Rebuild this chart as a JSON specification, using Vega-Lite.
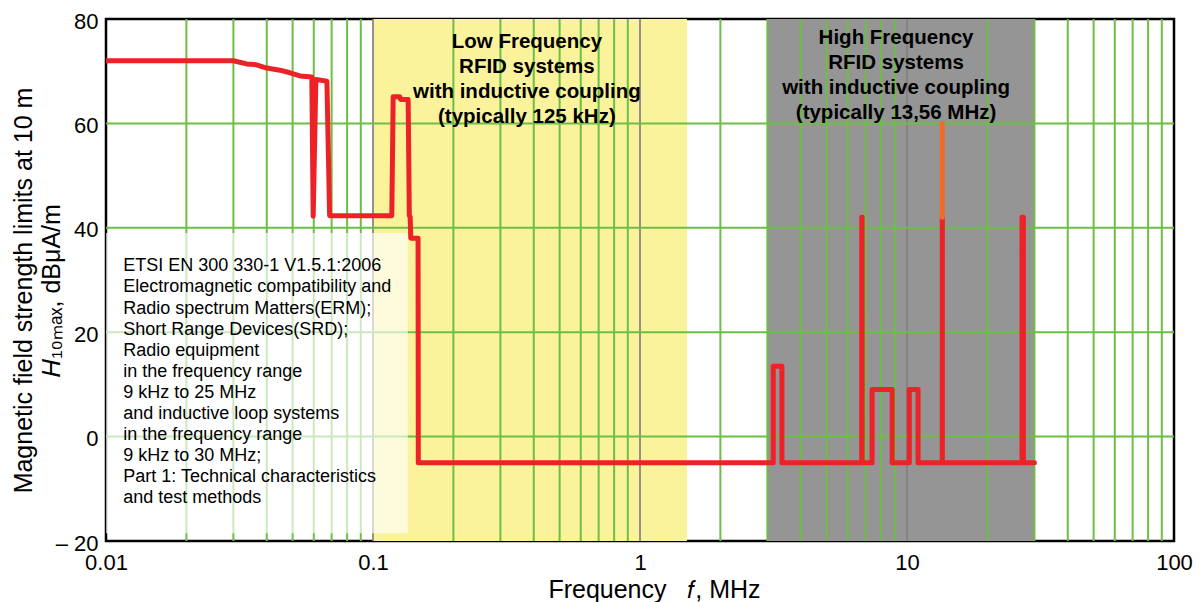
{
  "$schema": "https://vega.github.io/schema/vega-lite/v6.json",
  "width": 1068,
  "height": 522,
  "autosize": {"type": "none"},
  "padding": {"left": 106, "top": 19, "right": 26, "bottom": 61},
  "background": "white",
  "config": {
    "font": "Liberation Sans",
    "view": {"stroke": "black", "strokeWidth": 2.5},
    "axisX": {
      "tickCount": 4,
      "format": "~g",
      "labelFontSize": 22,
      "labelColor": "black",
      "labelPadding": 11,
      "labelFlush": false,
      "labelOverlap": false,
      "ticks": false,
      "grid": false,
      "domain": false,
      "titleFontSize": 25,
      "titleFontWeight": "normal",
      "titleColor": "black",
      "titleX": 548,
      "titleY": 56,
      "titleAlign": "center",
      "titleBaseline": "alphabetic"
    },
    "axisY": {
      "tickCount": 5,
      "labelExpr": "datum.value < 0 ? '– ' + abs(datum.value) : datum.label",
      "labelFontSize": 22,
      "labelColor": "black",
      "labelPadding": 8,
      "labelOffset": 2,
      "labelOverlap": false,
      "ticks": false,
      "grid": false,
      "domain": false,
      "titleFontSize": 25,
      "titleFontWeight": "normal",
      "titleColor": "black",
      "titleLineHeight": 28,
      "titleX": -70,
      "titleY": 271,
      "titleAlign": "center",
      "titleBaseline": "bottom",
      "titleAngle": -90
    }
  },
  "datasets": {
    "bands": [
      {"band": "LF", "f0": 0.1, "f1": 1.5},
      {"band": "HF", "f0": 3, "f1": 30}
    ],
    "grid": [
      {"f": 0.02}, {"f": 0.03}, {"f": 0.04}, {"f": 0.05}, {"f": 0.06}, {"f": 0.07}, {"f": 0.08}, {"f": 0.09},
      {"f": 0.2}, {"f": 0.3}, {"f": 0.4}, {"f": 0.5}, {"f": 0.6}, {"f": 0.7}, {"f": 0.8}, {"f": 0.9},
      {"f": 2}, {"f": 3}, {"f": 4}, {"f": 5}, {"f": 6}, {"f": 7}, {"f": 8}, {"f": 9},
      {"f": 20}, {"f": 30}, {"f": 40}, {"f": 50}, {"f": 60}, {"f": 70}, {"f": 80}, {"f": 90}
    ],
    "decades": [{"f": 0.1}, {"f": 1}, {"f": 10}],
    "levels": [{"h": 60}, {"h": 40}, {"h": 20}, {"h": 0}],
    "box": [{"f0": 0.01, "f1": 0.135, "h0": -18.5, "h1": 39}],
    "limit": [
      {"f": 0.01, "h": 72},
      {"f": 0.03, "h": 72},
      {"f": 0.0336, "h": 71.4},
      {"f": 0.0361, "h": 71.3},
      {"f": 0.04, "h": 70.6},
      {"f": 0.0448, "h": 70.2},
      {"f": 0.0489, "h": 69.7},
      {"f": 0.0533, "h": 69.1},
      {"f": 0.059, "h": 68.9},
      {"f": 0.0597, "h": 42.2},
      {"f": 0.0611, "h": 68.4},
      {"f": 0.0672, "h": 68.1},
      {"f": 0.0688, "h": 42.3},
      {"f": 0.1176, "h": 42.3},
      {"f": 0.119, "h": 65.1},
      {"f": 0.126, "h": 65.1},
      {"f": 0.1268, "h": 64.6},
      {"f": 0.1354, "h": 64.6},
      {"f": 0.1368, "h": 42.3},
      {"f": 0.1378, "h": 42.1},
      {"f": 0.1385, "h": 38},
      {"f": 0.1475, "h": 38},
      {"f": 0.1478, "h": -5},
      {"f": 3.155, "h": -5},
      {"f": 3.155, "h": 13.5},
      {"f": 3.4, "h": 13.5},
      {"f": 3.4, "h": -5},
      {"f": 6.765, "h": -5},
      {"f": 6.77, "h": 42},
      {"f": 6.79, "h": 42},
      {"f": 6.795, "h": -5},
      {"f": 7.4, "h": -5},
      {"f": 7.4, "h": 9},
      {"f": 8.8, "h": 9},
      {"f": 8.8, "h": -5},
      {"f": 10.2, "h": -5},
      {"f": 10.2, "h": 9},
      {"f": 11, "h": 9},
      {"f": 11, "h": -5},
      {"f": 13.553, "h": -5},
      {"f": 13.556, "h": 42},
      {"f": 13.564, "h": 42},
      {"f": 13.567, "h": -5},
      {"f": 26.957, "h": -5},
      {"f": 26.96, "h": 42},
      {"f": 27.28, "h": 42},
      {"f": 27.283, "h": -5},
      {"f": 30, "h": -5}
    ],
    "rfid": [{"f": 13.56, "h0": 42, "h1": 60}],
    "notes": [
      {"f": 0.377, "h": 74.4, "text": "Low Frequency\nRFID systems\nwith inductive coupling\n(typically 125 kHz)"},
      {"f": 9.1, "h": 75.3, "text": "High Frequency\nRFID systems\nwith inductive coupling\n(typically 13,56 MHz)"}
    ],
    "standard": [
      {"f": 0.0116, "h": 31.65, "text": "ETSI EN 300 330-1 V1.5.1:2006\nElectromagnetic compatibility and\nRadio spectrum Matters(ERM);\nShort Range Devices(SRD);\nRadio equipment\nin the frequency range\n9 kHz to 25 MHz\nand inductive loop systems\nin the frequency range\n9 kHz to 30 MHz;\nPart 1: Technical characteristics\nand test methods"}
    ]
  },
  "layer": [
    {
      "data": {"name": "bands"},
      "mark": {"type": "rect"},
      "encoding": {
        "x": {"field": "f0", "type": "quantitative", "scale": {"type": "log", "domain": [0.01, 100]}, "title": "Frequency\u00a0\u00a0\u00a0𝑓, MHz"},
        "x2": {"field": "f1"},
        "color": {"field": "band", "type": "nominal", "scale": {"domain": ["LF", "HF"], "range": ["#FAF39B", "#959595"]}, "legend": null}
      }
    },
    {
      "data": {"name": "grid"},
      "mark": {"type": "rule", "color": "#6CBE45", "strokeWidth": 2},
      "encoding": {
        "x": {"field": "f", "type": "quantitative", "scale": {"type": "log", "domain": [0.01, 100]}, "title": "Frequency\u00a0\u00a0\u00a0𝑓, MHz"}
      }
    },
    {
      "data": {"name": "decades"},
      "mark": {"type": "rule", "color": "#808080", "opacity": 0.85, "strokeWidth": 2},
      "encoding": {
        "x": {"field": "f", "type": "quantitative", "scale": {"type": "log", "domain": [0.01, 100]}, "title": "Frequency\u00a0\u00a0\u00a0𝑓, MHz"}
      }
    },
    {
      "data": {"name": "levels"},
      "mark": {"type": "rule", "color": "#6CBE45", "strokeWidth": 2},
      "encoding": {
        "y": {"field": "h", "type": "quantitative", "scale": {"domain": [-20, 80], "nice": false, "zero": false}, "title": ["Magnetic field strength limits at 10 m", "𝐻₁₀ₘₐₓ, dBμA/m"]}
      }
    },
    {
      "data": {"name": "box"},
      "mark": {"type": "rect", "color": "white", "opacity": 0.65},
      "encoding": {
        "x": {"field": "f0", "type": "quantitative", "scale": {"type": "log", "domain": [0.01, 100]}, "title": "Frequency\u00a0\u00a0\u00a0𝑓, MHz"},
        "x2": {"field": "f1"},
        "y": {"field": "h0", "type": "quantitative", "scale": {"domain": [-20, 80], "nice": false, "zero": false}, "title": ["Magnetic field strength limits at 10 m", "𝐻₁₀ₘₐₓ, dBμA/m"]},
        "y2": {"field": "h1"}
      }
    },
    {
      "data": {"name": "limit"},
      "mark": {"type": "line", "color": "#EC2227", "strokeWidth": 5, "strokeJoin": "round", "strokeCap": "round", "clip": true},
      "encoding": {
        "x": {"field": "f", "type": "quantitative", "scale": {"type": "log", "domain": [0.01, 100]}, "title": "Frequency\u00a0\u00a0\u00a0𝑓, MHz"},
        "y": {"field": "h", "type": "quantitative", "scale": {"domain": [-20, 80], "nice": false, "zero": false}, "title": ["Magnetic field strength limits at 10 m", "𝐻₁₀ₘₐₓ, dBμA/m"]}
      }
    },
    {
      "data": {"name": "rfid"},
      "mark": {"type": "rule", "color": "#F26A2A", "strokeWidth": 5, "strokeCap": "round"},
      "encoding": {
        "x": {"field": "f", "type": "quantitative", "scale": {"type": "log", "domain": [0.01, 100]}, "title": "Frequency\u00a0\u00a0\u00a0𝑓, MHz"},
        "y": {"field": "h0", "type": "quantitative", "scale": {"domain": [-20, 80], "nice": false, "zero": false}, "title": ["Magnetic field strength limits at 10 m", "𝐻₁₀ₘₐₓ, dBμA/m"]},
        "y2": {"field": "h1"}
      }
    },
    {
      "data": {"name": "notes"},
      "mark": {"type": "text", "fontSize": 20.5, "fontWeight": "bold", "color": "black", "align": "center", "baseline": "alphabetic", "lineBreak": "\n", "lineHeight": 25},
      "encoding": {
        "x": {"field": "f", "type": "quantitative", "scale": {"type": "log", "domain": [0.01, 100]}, "title": "Frequency\u00a0\u00a0\u00a0𝑓, MHz"},
        "y": {"field": "h", "type": "quantitative", "scale": {"domain": [-20, 80], "nice": false, "zero": false}, "title": ["Magnetic field strength limits at 10 m", "𝐻₁₀ₘₐₓ, dBμA/m"]},
        "text": {"field": "text", "type": "nominal"}
      }
    },
    {
      "data": {"name": "standard"},
      "mark": {"type": "text", "fontSize": 18, "color": "black", "align": "left", "baseline": "alphabetic", "lineBreak": "\n", "lineHeight": 21.1},
      "encoding": {
        "x": {"field": "f", "type": "quantitative", "scale": {"type": "log", "domain": [0.01, 100]}, "title": "Frequency\u00a0\u00a0\u00a0𝑓, MHz"},
        "y": {"field": "h", "type": "quantitative", "scale": {"domain": [-20, 80], "nice": false, "zero": false}, "title": ["Magnetic field strength limits at 10 m", "𝐻₁₀ₘₐₓ, dBμA/m"]},
        "text": {"field": "text", "type": "nominal"}
      }
    }
  ]
}
